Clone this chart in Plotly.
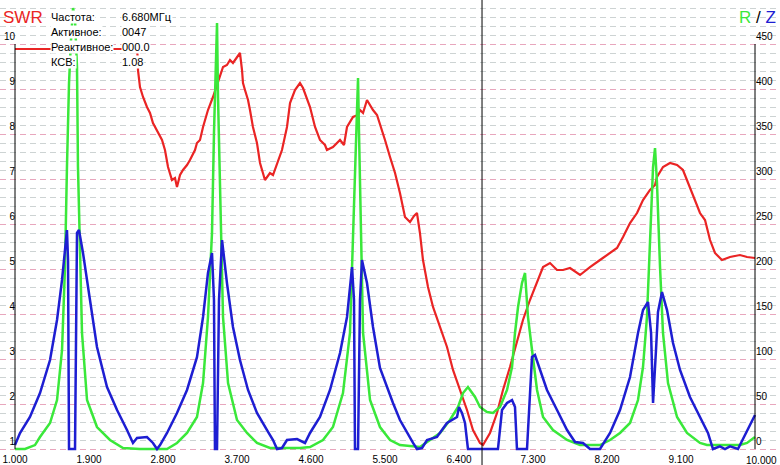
import plotly.graph_objects as go

# ---------------- data ----------------
# Z (blue) : frequency MHz, ohms
z_freq = [1.000, 1.061, 1.182, 1.304, 1.426, 1.511, 1.572, 1.608, 1.632, 1.645, 1.657, 1.730, 1.742, 1.754,
          1.778, 1.827, 1.912, 1.997, 2.119, 2.241, 2.362, 2.435, 2.484, 2.605, 2.678, 2.727, 2.764, 2.849,
          2.970, 3.092, 3.213, 3.287, 3.347, 3.396, 3.420, 3.432, 3.457, 3.481, 3.518, 3.578, 3.651, 3.736,
          3.834, 3.943, 4.065, 4.138, 4.187, 4.247, 4.308, 4.430, 4.527, 4.588, 4.709, 4.831, 4.953, 5.038,
          5.099, 5.123, 5.135, 5.172, 5.196, 5.220, 5.281, 5.354, 5.439, 5.524, 5.597, 5.682, 5.768, 5.841,
          5.889, 5.950, 6.011, 6.132, 6.254, 6.376, 6.400, 6.436, 6.473, 6.509, 6.874, 6.923, 6.984, 7.045,
          7.081, 7.105, 7.227, 7.288, 7.324, 7.385, 7.470, 7.592, 7.714, 7.811, 7.908, 7.993, 8.115, 8.237,
          8.358, 8.480, 8.577, 8.638, 8.699, 8.736, 8.760, 8.796, 8.820, 8.869, 8.930, 9.003, 9.088, 9.209,
          9.331, 9.428, 9.489, 9.574, 9.635, 9.696, 9.793, 9.903, 10.000]
z_vals = [4.4, 17.8, 35.6, 62.2, 98.9, 143.3, 187.8, 224.4, 243.3, 210.0, 0.0, 0.0, 165.6, 240.0,
          243.3, 217.8, 165.6, 113.3, 68.9, 43.3, 21.1, 6.7, 12.2, 13.3, 6.7, 0.0, 4.4, 17.8,
          40.0, 65.6, 102.0, 146.7, 195.6, 217.8, 165.6, 0.0, 0.0, 165.6, 232.2, 184.4, 135.6, 98.9,
          65.6, 40.0, 21.1, 10.0, 0.0, 1.1, 10.0, 11.1, 6.7, 17.8, 35.6, 65.6, 106.7, 146.7,
          202.2, 165.6, 0.0, 0.0, 165.6, 210.0, 184.4, 135.6, 90.0, 68.9, 51.1, 32.2, 17.8, 6.7,
          0.0, 1.1, 10.0, 13.3, 28.9, 35.6, 46.7, 40.0, 28.9, 0.0, 0.0, 43.3, 51.1, 54.4,
          46.7, 0.0, 0.0, 102.2, 104.4, 87.8, 65.6, 43.3, 21.1, 7.8, 6.7, 0.0, 0.0, 17.8,
          43.3, 80.0, 128.9, 154.4, 163.3, 128.9, 51.1, 110.0, 152.2, 174.4, 154.4, 117.8, 87.8, 57.8,
          35.6, 17.8, 0.0, 3.0, 0.0, 3.0, 0.0, 21.1, 37.8]

# R (green) : frequency MHz, ohms
r_freq = [1.000, 1.122, 1.243, 1.304, 1.426, 1.511, 1.572, 1.608, 1.632, 1.657, 1.681, 1.706, 1.730, 1.754,
          1.766, 1.791, 1.815, 1.876, 1.997, 2.155, 2.314, 2.520, 2.849, 2.970, 3.092, 3.213, 3.287, 3.347,
          3.396, 3.420, 3.445, 3.457, 3.469, 3.505, 3.530, 3.591, 3.700, 3.822, 3.943, 4.101, 4.466, 4.588,
          4.746, 4.867, 4.989, 5.074, 5.111, 5.147, 5.172, 5.184, 5.208, 5.233, 5.318, 5.439, 5.561, 5.682,
          5.925, 6.011, 6.169, 6.290, 6.388, 6.449, 6.509, 6.595, 6.655, 6.740, 6.813, 6.899, 6.984, 7.045,
          7.081, 7.118, 7.166, 7.203, 7.239, 7.288, 7.349, 7.422, 7.543, 7.714, 7.872, 8.115, 8.237, 8.358,
          8.480, 8.577, 8.638, 8.686, 8.723, 8.760, 8.784, 8.808, 8.845, 8.881, 8.942, 9.052, 9.173, 9.331,
          9.416, 9.817, 9.903, 10.000]
r_vals = [0.0, 0.0, 4.4, 13.3, 28.9, 54.4, 110.0, 202.2, 313.3, 406.7, 454.0, 490.0, 476.7, 424.4,
          313.3, 202.2, 128.9, 54.4, 24.4, 10.0, 1.1, 0.0, 0.0, 6.7, 17.8, 35.6, 73.3, 146.7,
          240.0, 351.1, 424.4, 473.3, 391.1, 240.0, 146.7, 73.3, 32.2, 17.8, 6.7, 1.1, 1.1, 2.2,
          10.0, 24.4, 62.2, 128.9, 240.0, 351.1, 412.2, 351.1, 240.0, 128.9, 54.4, 24.4, 10.0, 4.4,
          2.2, 7.8, 17.8, 32.2, 46.7, 62.2, 68.9, 57.8, 46.7, 41.1, 40.0, 46.7, 65.6, 91.1,
          128.9, 157.8, 184.4, 195.6, 146.7, 110.0, 65.6, 35.6, 21.1, 10.0, 4.4, 4.4, 10.0, 17.8,
          28.9, 54.4, 91.1, 146.7, 240.0, 313.3, 334.4, 295.6, 202.2, 128.9, 73.3, 35.6, 17.8, 6.7,
          4.4, 4.4, 6.7, 13.3]

# SWR (red)
swr_freq = [1.000, 2.484, 2.496, 2.496, 2.520, 2.557, 2.605, 2.642, 2.678, 2.727, 2.788, 2.824, 2.861, 2.909,
            2.946, 2.970, 3.007, 3.043, 3.092, 3.128, 3.189, 3.213, 3.250, 3.287, 3.347, 3.408, 3.469, 3.530,
            3.578, 3.615, 3.651, 3.700, 3.736, 3.761, 3.773, 3.797, 3.834, 3.858, 3.894, 3.943, 3.980, 4.040,
            4.101, 4.138, 4.187, 4.247, 4.308, 4.345, 4.405, 4.466, 4.503, 4.527, 4.588, 4.649, 4.709, 4.770,
            4.794, 4.867, 4.953, 5.001, 5.038, 5.111, 5.172, 5.196, 5.233, 5.281, 5.318, 5.354, 5.403, 5.439,
            5.500, 5.561, 5.622, 5.682, 5.743, 5.804, 5.853, 5.889, 5.925, 5.962, 6.023, 6.084, 6.169, 6.254,
            6.327, 6.412, 6.497, 6.570, 6.655, 6.692, 6.777, 6.862, 6.935, 7.020, 7.105, 7.178, 7.263, 7.349,
            7.422, 7.507, 7.592, 7.665, 7.750, 7.872, 7.993, 8.115, 8.237, 8.322, 8.395, 8.480, 8.565, 8.638,
            8.723, 8.784, 8.808, 8.881, 8.966, 9.052, 9.124, 9.209, 9.270, 9.331, 9.392, 9.453, 9.513, 9.598,
            9.696, 9.817, 9.903, 10.000]
swr_vals = [9.889, 9.889, 9.600, 9.420, 9.044, 8.822, 8.600, 8.467, 8.244, 8.089, 7.867, 7.644, 7.267, 6.978,
            7.020, 6.822, 7.089, 7.200, 7.311, 7.422, 7.644, 7.800, 7.867, 8.156, 8.533, 8.822, 9.133, 9.489,
            9.533, 9.644, 9.578, 9.711, 9.800, 9.422, 9.133, 8.978, 8.756, 8.533, 8.156, 7.800, 7.356, 6.978,
            7.133, 7.089, 7.356, 7.644, 8.156, 8.689, 8.978, 9.133, 9.022, 8.911, 8.600, 8.156, 7.867, 7.756,
            7.644, 7.711, 7.867, 7.756, 8.156, 8.378, 8.422, 8.533, 8.467, 8.756, 8.644, 8.533, 8.422, 8.222,
            7.867, 7.489, 7.133, 6.689, 6.156, 6.044, 6.178, 6.244, 5.800, 5.200, 4.600, 4.156, 3.711, 3.267,
            2.756, 2.311, 1.867, 1.422, 1.133, 1.089, 1.356, 1.800, 2.311, 2.822, 3.356, 3.867, 4.311, 4.689,
            5.044, 5.133, 4.978, 4.978, 5.022, 4.867, 5.044, 5.200, 5.356, 5.467, 5.711, 6.022, 6.244, 6.533,
            6.756, 6.867, 7.044, 7.267, 7.356, 7.311, 7.200, 6.822, 6.533, 6.244, 6.089, 5.644, 5.356, 5.200,
            5.267, 5.311, 5.267, 5.244]

x_tick_vals = [1.0, 1.9, 2.8, 3.7, 4.6, 5.5, 6.4, 7.3, 8.2, 9.1]
x_tick_text = ["1.000", "1.900", "2.800", "3.700", "4.600", "5.500", "6.400", "7.300", "8.200", "9.100"]
x_last_label = "10.000"
swr_ticks = [1, 2, 3, 4, 5, 6, 7, 8, 9, 10]
rz_ticks = [0, 50, 100, 150, 200, 250, 300, 350, 400, 450]

cursor_freq = 6.680
info_labels = ["Частота:", "Активное:", "Реактивное:", "КСВ:"]
info_values = ["6.680МГц", "0047", "000.0", "1.08"]

# ---------------- geometry ----------------
W, H = 780, 465
PLOT_H = 452          # plot area from top 0 to 452 px
PX_PER_MHZ = 740 / 9.0
X0_PX = 15            # 1.000 MHz
SWR_PX = 45.0         # px per SWR unit
SWR1_PX = 449         # y px of SWR=1

x_lo = 1.0 - X0_PX / PX_PER_MHZ
x_hi = 10.0 + (W - 755) / PX_PER_MHZ
y_lo = 1.0 - (PLOT_H - SWR1_PX) / SWR_PX
y_hi = 1.0 + SWR1_PX / SWR_PX
y2_lo = (y_lo - 1.0) * 50
y2_hi = (y_hi - 1.0) * 50


def px_x(p):
    return p / W


def px_y(p):
    return 1 - p / PLOT_H


FONT = "Liberation Sans, Arial, sans-serif"
RED = "#ea2424"
GREEN = "#3ae83a"
BLUE = "#1e1ed2"
PINK = "#e8a6bd"
GRAY = "#cdd3d3"

fig = go.Figure()
fig.add_trace(go.Scatter(x=r_freq, y=r_vals, mode="lines", yaxis="y2",
                         line=dict(color=GREEN, width=2.5), hoverinfo="skip"))
fig.add_trace(go.Scatter(x=z_freq, y=z_vals, mode="lines", yaxis="y2",
                         line=dict(color=BLUE, width=2.5), hoverinfo="skip"))
fig.add_trace(go.Scatter(x=swr_freq, y=swr_vals, mode="lines",
                         line=dict(color=RED, width=2.2), hoverinfo="skip"))

fig.update_layout(
    width=W, height=H,
    margin=dict(l=0, r=0, t=0, b=H - PLOT_H, pad=0, autoexpand=False),
    paper_bgcolor="white", plot_bgcolor="white",
    showlegend=False,
    font=dict(family=FONT, size=10, color="black"),
    xaxis=dict(range=[x_lo, x_hi], tickmode="array", tickvals=x_tick_vals, ticktext=x_tick_text,
               showgrid=False, zeroline=False, showline=False, ticks="", automargin=False,
               tickfont=dict(size=10, color="black")),
    yaxis=dict(range=[y_lo, y_hi], tickmode="array", tickvals=swr_ticks,
               anchor="free", position=X0_PX / W, side="left", automargin=False,
               showgrid=True, gridcolor=PINK, gridwidth=1, griddash="6px,4px",
               minor=dict(tick0=1, dtick=0.2, showgrid=True, gridcolor=GRAY, gridwidth=1,
                          griddash="6px,4px"),
               zeroline=False, showline=False, ticks="", ticklabelshift=-8,
               tickfont=dict(size=10, color="black")),
    yaxis2=dict(range=[y2_lo, y2_hi], tickmode="array", tickvals=rz_ticks,
                overlaying="y", anchor="free", position=755 / W, side="right", automargin=False,
                showgrid=False, zeroline=False, showline=False, ticks="", ticklabelshift=-8,
                tickfont=dict(size=10, color="black")),
)

# axis lines and cursor
fig.add_shape(type="line", x0=1.0, x1=1.0, y0=1, y1=10, xref="x", yref="y",
              line=dict(color="black", width=1))
fig.add_shape(type="line", x0=10.0, x1=10.0, y0=1, y1=10, xref="x", yref="y",
              line=dict(color="black", width=1))
fig.add_shape(type="line", x0=cursor_freq, x1=cursor_freq, y0=-(H - PLOT_H) / PLOT_H, y1=1,
              xref="x", yref="paper", line=dict(color="black", width=1))

# x label at 10.000
fig.add_annotation(x=px_x(779), y=px_y(453), xref="paper", yref="paper", text=x_last_label,
                   showarrow=False, xanchor="right", yanchor="top",
                   font=dict(size=10, color="black", family=FONT))

# titles
fig.add_annotation(x=px_x(1), y=px_y(18), xref="paper", yref="paper", text="SWR",
                   showarrow=False, xanchor="left", yanchor="middle",
                   font=dict(size=17, color=RED, family=FONT))
fig.add_annotation(x=px_x(778), y=px_y(18), xref="paper", yref="paper",
                   text=f"<span style='color:{GREEN}'>R</span> / <span style='color:{BLUE}'>Z</span>",
                   showarrow=False, xanchor="right", yanchor="middle",
                   font=dict(size=17, color="black", family=FONT))

# info block
for i, (lab, val) in enumerate(zip(info_labels, info_values)):
    yc = 17 + 15 * i
    fig.add_annotation(x=px_x(50), y=px_y(yc), xref="paper", yref="paper", text=lab,
                       showarrow=False, xanchor="left", yanchor="middle", bgcolor="white",
                       borderpad=0, font=dict(size=11, color="black", family=FONT))
    fig.add_annotation(x=px_x(121), y=px_y(yc), xref="paper", yref="paper", text=val,
                       showarrow=False, xanchor="left", yanchor="middle", bgcolor="white",
                       borderpad=0, font=dict(size=11, color="black", family=FONT))

fig.write_html("out.html", config={"displayModeBar": False},
               post_script="document.body.style.margin='0';document.body.style.padding='0';")
